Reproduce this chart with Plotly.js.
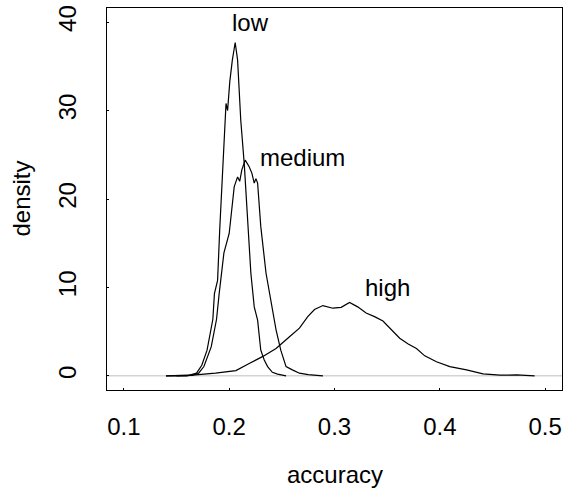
<!DOCTYPE html>
<html>
<head>
<meta charset="utf-8">
<script src="https://cdn.plot.ly/plotly-3.0.1.min.js"></script>
<style>html,body{margin:0;padding:0;background:#fff}#chart{width:568px;height:489px}</style>
</head>
<body>
<div id="chart"></div>
<script>
// Density estimates of accuracy
const lowX  = [0.140, 0.160, 0.169, 0.174, 0.179, 0.1845, 0.186, 0.189, 0.191, 0.194, 0.197, 0.1985, 0.2006, 0.203, 0.2057, 0.208, 0.211, 0.2143, 0.2174, 0.2206, 0.2238, 0.2248, 0.227, 0.230, 0.2333, 0.2365, 0.241, 0.246, 0.251, 0.254];
const lowY  = [0, 0, 0.3, 1.2, 2.9, 6.4, 9.3, 10.8, 16.5, 23.3, 30.8, 30.0, 33.3, 35.7, 37.7, 35.7, 28.9, 24.0, 17.6, 11.6, 7.8, 7.3, 6.3, 2.9, 1.8, 1.05, 0.4, 0.2, 0.1, 0];

const medX  = [0.150, 0.165, 0.171, 0.176, 0.183, 0.188, 0.1905, 0.195, 0.200, 0.2048, 0.208, 0.210, 0.212, 0.2152, 0.219, 0.2216, 0.2238, 0.2254, 0.227, 0.230, 0.235, 0.2397, 0.2445, 0.249, 0.254, 0.260, 0.2667, 0.275, 0.282, 0.289];
const medY  = [0, 0.05, 0.3, 1.05, 3.3, 6.4, 9.3, 13.9, 16.1, 21.4, 22.5, 22.0, 23.3, 24.4, 23.65, 22.9, 21.8, 22.3, 21.8, 16.9, 11.6, 8.2, 5.2, 2.9, 1.05, 0.68, 0.3, 0.15, 0.1, 0];

const highX = [0.140, 0.168, 0.187, 0.2064, 0.219, 0.232, 0.2445, 0.2508, 0.257, 0.2667, 0.2746, 0.281, 0.289, 0.2984, 0.3063, 0.3143, 0.322, 0.330, 0.338, 0.346, 0.354, 0.3619, 0.370, 0.3778, 0.3857, 0.3968, 0.4095, 0.4254, 0.441, 0.457, 0.473, 0.490];
const highY = [0, 0.1, 0.3, 0.6, 1.4, 2.2, 3.1, 3.7, 4.4, 5.4, 6.7, 7.5, 7.95, 7.65, 7.75, 8.3, 7.8, 7.1, 6.7, 6.2, 5.2, 4.26, 3.6, 3.1, 2.26, 1.6, 1.05, 0.68, 0.23, 0.08, 0.1, 0];

const labelText = ["low", "medium", "high"];
const labelX = [0.22, 0.27, 0.35];
const labelY = [40, 24.7, 10];

const xTicks = [0.1, 0.2, 0.3, 0.4, 0.5];
const xTickText = ["0.1", "0.2", "0.3", "0.4", "0.5"];
const yTicks = [0, 10, 20, 30, 40];
const yTickText = ["0", "10", "20", "30", "40"];

const FONT = "Liberation Sans, Arial, Helvetica, sans-serif";
const FS = 24;
const lineStyle = {color: "#000", width: 1.2};

const traces = [
  {x: lowX, y: lowY, name: "low", mode: "lines", line: lineStyle, hoverinfo: "skip"},
  {x: medX, y: medY, name: "medium", mode: "lines", line: lineStyle, hoverinfo: "skip"},
  {x: highX, y: highY, name: "high", mode: "lines", line: lineStyle, hoverinfo: "skip"}
];

const annotations = labelText.map((t, i) => ({
  x: labelX[i], y: labelY[i], xref: "x", yref: "y", text: t, showarrow: false,
  font: {family: FONT, size: FS, color: "#000"}, xanchor: "center", yanchor: "middle"
}));
annotations.push({x: 0.5, y: -0.2225, xref: "paper", yref: "paper", text: "accuracy", showarrow: false,
  font: {family: FONT, size: FS, color: "#000"}, xanchor: "center", yanchor: "middle"});
annotations.push({x: -0.19, y: 0.5, xref: "paper", yref: "paper", text: "density", showarrow: false, textangle: -90,
  font: {family: FONT, size: FS, color: "#000"}, xanchor: "center", yanchor: "middle"});

const layout = {
  width: 568, height: 489,
  margin: {l: 107, r: 6, t: 8, b: 99, pad: 0},
  paper_bgcolor: "#fff", plot_bgcolor: "#fff",
  showlegend: false,
  font: {family: FONT, size: FS, color: "#000"},
  xaxis: {
    range: [0.084, 0.516], tickvals: xTicks, ticktext: xTickText,
    showgrid: false, zeroline: false, showline: true, mirror: true, linecolor: "#000", linewidth: 1,
    ticks: "inside", ticklen: 2, tickcolor: "#000", ticklabelstandoff: 15,
    tickfont: {family: FONT, size: FS, color: "#000"}
  },
  yaxis: {
    range: [-1.6, 41.6], tickvals: yTicks, ticktext: yTickText, tickangle: -90,
    showgrid: false, zeroline: false, showline: true, mirror: true, linecolor: "#000", linewidth: 1,
    ticks: "inside", ticklen: 2, tickcolor: "#000", ticklabelstandoff: 20,
    tickfont: {family: FONT, size: FS, color: "#000"}
  },
  shapes: [{type: "line", xref: "paper", x0: 0, x1: 1, yref: "y", y0: 0, y1: 0,
    line: {color: "#bebebe", width: 1}, layer: "below"}],
  annotations: annotations
};

Plotly.newPlot("chart", traces, layout, {staticPlot: true, displayModeBar: false});
</script>
</body>
</html>
